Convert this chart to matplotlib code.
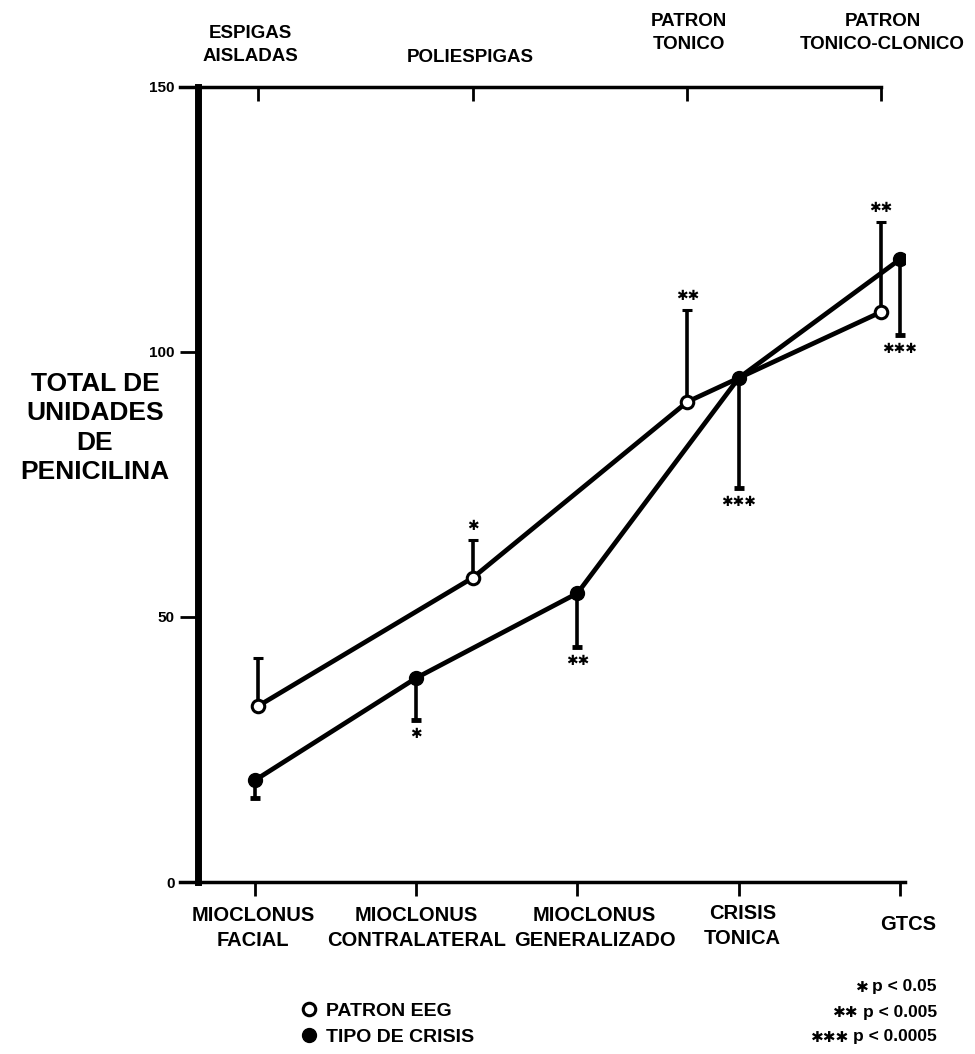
import matplotlib.pyplot as plt
from matplotlib.lines import Line2D

plt.rcParams['font.family'] = ['Liberation Sans', 'DejaVu Sans']
plt.rcParams['font.weight'] = 'bold'

# tipo de crisis (bottom axis), error bars go down
crisis_labels = ['MIOCLONUS\nFACIAL', 'MIOCLONUS\nCONTRALATERAL', 'MIOCLONUS\nGENERALIZADO',
                 'CRISIS\nTONICA', 'GTCS']
crisis_mean = [19.2, 38.5, 54.5, 95.1, 117.5]
crisis_err = [3.4, 7.9, 10.2, 20.8, 14.3]
crisis_sig = ['', '*', '**', '***', '***']

# patron EEG (top axis), error bars go up
eeg_labels = ['ESPIGAS\nAISLADAS', 'POLIESPIGAS', 'PATRON\nTONICO', 'PATRON\nTONICO-CLONICO']
eeg_mean = [33.2, 57.4, 90.6, 107.5]
eeg_err = [9.1, 7.1, 17.3, 17.0]
eeg_sig = ['', '*', '**', '**']

sig_levels = ['*', '**', '***']
sig_p = ['p < 0.05', 'p < 0.005', 'p < 0.0005']

STAR = '\u2731'

W, H = 975, 1054
fig = plt.figure(figsize=(W / 100, H / 100), dpi=100)
ax = fig.add_axes([180 / W, 172 / H, 725 / W, 795 / H])
ax2 = ax.twiny()

xc = list(range(len(crisis_labels)))
xe = [0, 1, 2, 2.9]

ax.errorbar(xc, crisis_mean, yerr=[crisis_err, [0] * len(crisis_err)], fmt='-o',
            color='black', lw=3.4, ms=10, elinewidth=2.6, capsize=3.5, capthick=3.5)
ax2.errorbar(xe, eeg_mean, yerr=[[0] * len(eeg_err), eeg_err], fmt='-o',
             color='black', mfc='white', mec='black', mew=2.2, lw=3.4, ms=9,
             elinewidth=2.6, capsize=3.5, capthick=3.5)

for x, m, e, s in zip(xc, crisis_mean, crisis_err, crisis_sig):
    if s:
        ax.annotate(s.replace('*', STAR), (x, m - e), xytext=(0, -7), textcoords='offset pixels',
                    ha='center', va='top', fontsize=10, family='DejaVu Sans')
for x, m, e, s in zip(xe, eeg_mean, eeg_err, eeg_sig):
    if s:
        ax2.annotate(s.replace('*', STAR), (x, m + e), xytext=(0, 7), textcoords='offset pixels',
                     ha='center', va='bottom', fontsize=10, family='DejaVu Sans')

ax.set_xlim(-0.465, 4.031)
ax2.set_xlim(-0.364, 3.014)
ax.set_ylim(0, 150)

for s in ['top', 'right']:
    ax.spines[s].set_visible(False)
for s in ['bottom', 'left', 'right']:
    ax2.spines[s].set_visible(False)
ax.spines['left'].set_position(('axes', 18 / 725))
ax.spines['left'].set_linewidth(5)
ax.spines['bottom'].set_linewidth(2.5)
ax2.spines['top'].set_linewidth(2.5)
ax2.spines['top'].set_bounds(-0.364, 2.9)

ax.set_yticks([0, 50, 100, 150])
ax.tick_params(axis='y', length=13, width=2, labelsize=11, pad=4)
ax.set_xticks(xc)
ax.set_xticklabels([])
ax.tick_params(axis='x', length=10, width=2, direction='out')
ax2.set_xticks(xe)
ax2.set_xticklabels([])
ax2.tick_params(axis='x', length=10, width=2, direction='in')

bottom_dx = [-2, 0, 17, 4, 8]
bottom_dy = [-46, -46, -46, -44, -43]
for x, lab, dx, dy in zip(xc, crisis_labels, bottom_dx, bottom_dy):
    ax.annotate(lab, (x, 0), xycoords=('data', 'axes fraction'), xytext=(dx, dy),
                textcoords='offset pixels', ha='center', va='center', fontsize=14.5,
                linespacing=1.35)

top_dx = [-8, -2, 2, 2]
top_dy = [42, 30, 54, 54]
for x, lab, dx, dy in zip(xe, eeg_labels, top_dx, top_dy):
    ax2.annotate(lab, (x, 1), xycoords=('data', 'axes fraction'), xytext=(dx, dy),
                 textcoords='offset pixels', ha='center', va='center', fontsize=13.5,
                 linespacing=1.45)

fig.text(95 / W, 1 - 428 / H, 'TOTAL DE\nUNIDADES\nDE\nPENICILINA', ha='center', va='center',
         fontsize=19, linespacing=1.27)

handles = [Line2D([], [], ls='none', marker='o', mfc='white', mec='black', mew=2.2, ms=9, color='black'),
           Line2D([], [], ls='none', marker='o', ms=10, color='black')]
fig.legend(handles, ['PATRON EEG', 'TIPO DE CRISIS'], loc='center left',
           bbox_to_anchor=(282 / W, 1 - 1024 / H), frameon=False, fontsize=14,
           handletextpad=0.35, labelspacing=0.45, handlelength=1.0)

for i, (stars, p) in enumerate(zip(sig_levels, sig_p)):
    t = fig.text(937 / W, 1 - (987 + 25 * i) / H, p, ha='right', va='center', fontsize=12.5)
    ax.annotate(stars.replace('*', STAR), xy=(0, 0.45), xycoords=t, xytext=(-4, 0),
                textcoords='offset pixels', ha='right', va='center', fontsize=11,
                family='DejaVu Sans', annotation_clip=False)

fig.savefig('out.png', dpi=100)
